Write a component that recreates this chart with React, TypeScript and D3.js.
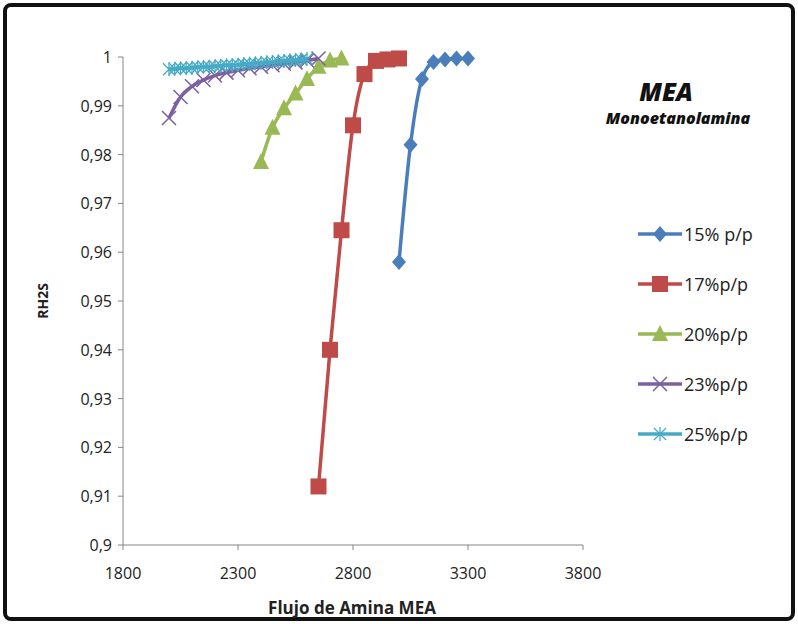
import React from 'react';
import * as d3 from 'd3';

const seriesNames = ['15% p/p', '17%p/p', '20%p/p', '23%p/p', '25%p/p'];
const colors = ['#4a7ebb', '#be4b48', '#98b954', '#7d60a0', '#46aac5'];
const markers = ['diamond', 'square', 'triangle', 'cross', 'star'];

const x15 = [3000, 3050, 3100, 3150, 3200, 3250, 3300];
const y15 = [0.958, 0.982, 0.9955, 0.999, 0.9995, 0.9997, 0.9997];
const x17 = [2650, 2700, 2750, 2800, 2850, 2900, 2950, 3000];
const y17 = [0.912, 0.94, 0.9645, 0.986, 0.9965, 0.9992, 0.9995, 0.9997];
const x20 = [2400, 2450, 2500, 2550, 2600, 2650, 2700, 2750];
const y20 = [0.9785, 0.9855, 0.9895, 0.9925, 0.9955, 0.998, 0.9993, 0.9997];
const x23 = [2000, 2050, 2100, 2150, 2200, 2250, 2300, 2350, 2400, 2450, 2500, 2550, 2600, 2650];
const y23 = [0.9875, 0.9918, 0.994, 0.9953, 0.9962, 0.9968, 0.9973, 0.9977, 0.998, 0.9983, 0.9986, 0.9989, 0.9993, 0.9997];
const x25 = [2000, 2025, 2050, 2075, 2100, 2125, 2150, 2175, 2200, 2225, 2250, 2275, 2300, 2325, 2350, 2375, 2400, 2425, 2450, 2475, 2500, 2525, 2550, 2575, 2600];
const y25 = [0.9975, 0.9976, 0.9977, 0.9977, 0.9978, 0.9979, 0.998, 0.998, 0.9981, 0.9982, 0.9983, 0.9983, 0.9984, 0.9985, 0.9986, 0.9987, 0.9988, 0.9989, 0.999, 0.9991, 0.9992, 0.9993, 0.9994, 0.9995, 0.9996];

const xs = [x15, x17, x20, x23, x25];
const ys = [y15, y17, y20, y23, y25];
const xTicks = [1800, 2300, 2800, 3300, 3800];
const yTicks = [0.9, 0.91, 0.92, 0.93, 0.94, 0.95, 0.96, 0.97, 0.98, 0.99, 1];

const Marker = ({ type, color }: { type: string; color: string }) => {
  if (type === 'diamond') return <path d="M0,-8L7,0L0,8L-7,0Z" fill={color} />;
  if (type === 'square') return <rect x={-8} y={-8} width={16} height={16} fill={color} />;
  if (type === 'triangle') return <path d="M0,-9L8,7L-8,7Z" fill={color} />;
  if (type === 'cross')
    return <path d="M-7,-7L7,7M-7,7L7,-7" stroke={color} strokeWidth={1.5} fill="none" />;
  return <path d="M-6,-6L6,6M-6,6L6,-6M0,-7L0,7" stroke={color} strokeWidth={1.3} fill="none" />;
};

export default function App() {
  const x = d3.scaleLinear().domain([1800, 3800]).range([123, 583]);
  const y = d3.scaleLinear().domain([0.9, 1]).range([545, 57]);
  const line = d3
    .line<[number, number]>()
    .x((d) => x(d[0]))
    .y((d) => y(d[1]))
    .curve(d3.curveMonotoneX);
  const font = '"Open Sans", "Liberation Sans", Arial, sans-serif';

  return (
    <svg width={798} height={624} style={{ position: 'absolute', left: 0, top: 0 }} fontFamily={font}>
      <rect x={0} y={0} width={798} height={624} fill="#fff" />
      <rect x={5} y={5} width={788} height={614} rx={6} fill="none" stroke="#111" strokeWidth={4} />
      <line x1={123} x2={123} y1={57} y2={545} stroke="#868686" />
      <line x1={123} x2={583} y1={545} y2={545} stroke="#868686" />
      {yTicks.map((t) => (
        <g key={t}>
          <line x1={118} x2={123} y1={y(t)} y2={y(t)} stroke="#868686" />
          <text x={112} y={y(t) + 6} textAnchor="end" fontSize={16} fill="#222">
            {String(t).replace('.', ',')}
          </text>
        </g>
      ))}
      {xTicks.map((t) => (
        <g key={t}>
          <line x1={x(t)} x2={x(t)} y1={545} y2={550} stroke="#868686" />
          <text x={x(t)} y={579} textAnchor="middle" fontSize={16} fill="#222">
            {t}
          </text>
        </g>
      ))}
      <text x={352} y={614} textAnchor="middle" fontSize={17} fontWeight="bold" fill="#222">
        Flujo de Amina MEA
      </text>
      <text transform="translate(48,301) rotate(-90)" textAnchor="middle" fontSize={14} fontWeight="bold" fill="#222">
        RH2S
      </text>
      {xs.map((xa, i) => {
        const pts = xa.map((v, j) => [v, ys[i][j]] as [number, number]);
        return (
          <g key={i}>
            <path d={line(pts) || ''} fill="none" stroke={colors[i]} strokeWidth={3.5} />
            {pts.map((p, j) => (
              <g key={j} transform={`translate(${x(p[0])},${y(p[1])})`}>
                <Marker type={markers[i]} color={colors[i]} />
              </g>
            ))}
          </g>
        );
      })}
      <text x={666} y={101} textAnchor="middle" fontSize={25} fontWeight="900" fontStyle="italic" fill="#111">
        MEA
      </text>
      <text x={678} y={124} textAnchor="middle" fontSize={16} fontWeight="900" fontStyle="italic" fill="#111">
        Monoetanolamina
      </text>
      {seriesNames.map((n, i) => {
        const ly = 234 + i * 50;
        return (
          <g key={n}>
            <line x1={638} x2={682} y1={ly} y2={ly} stroke={colors[i]} strokeWidth={3.5} />
            <g transform={`translate(660,${ly})`}>
              <Marker type={markers[i]} color={colors[i]} />
            </g>
            <text x={684} y={ly + 7} fontSize={18} fill="#222">
              {n}
            </text>
          </g>
        );
      })}
    </svg>
  );
}
